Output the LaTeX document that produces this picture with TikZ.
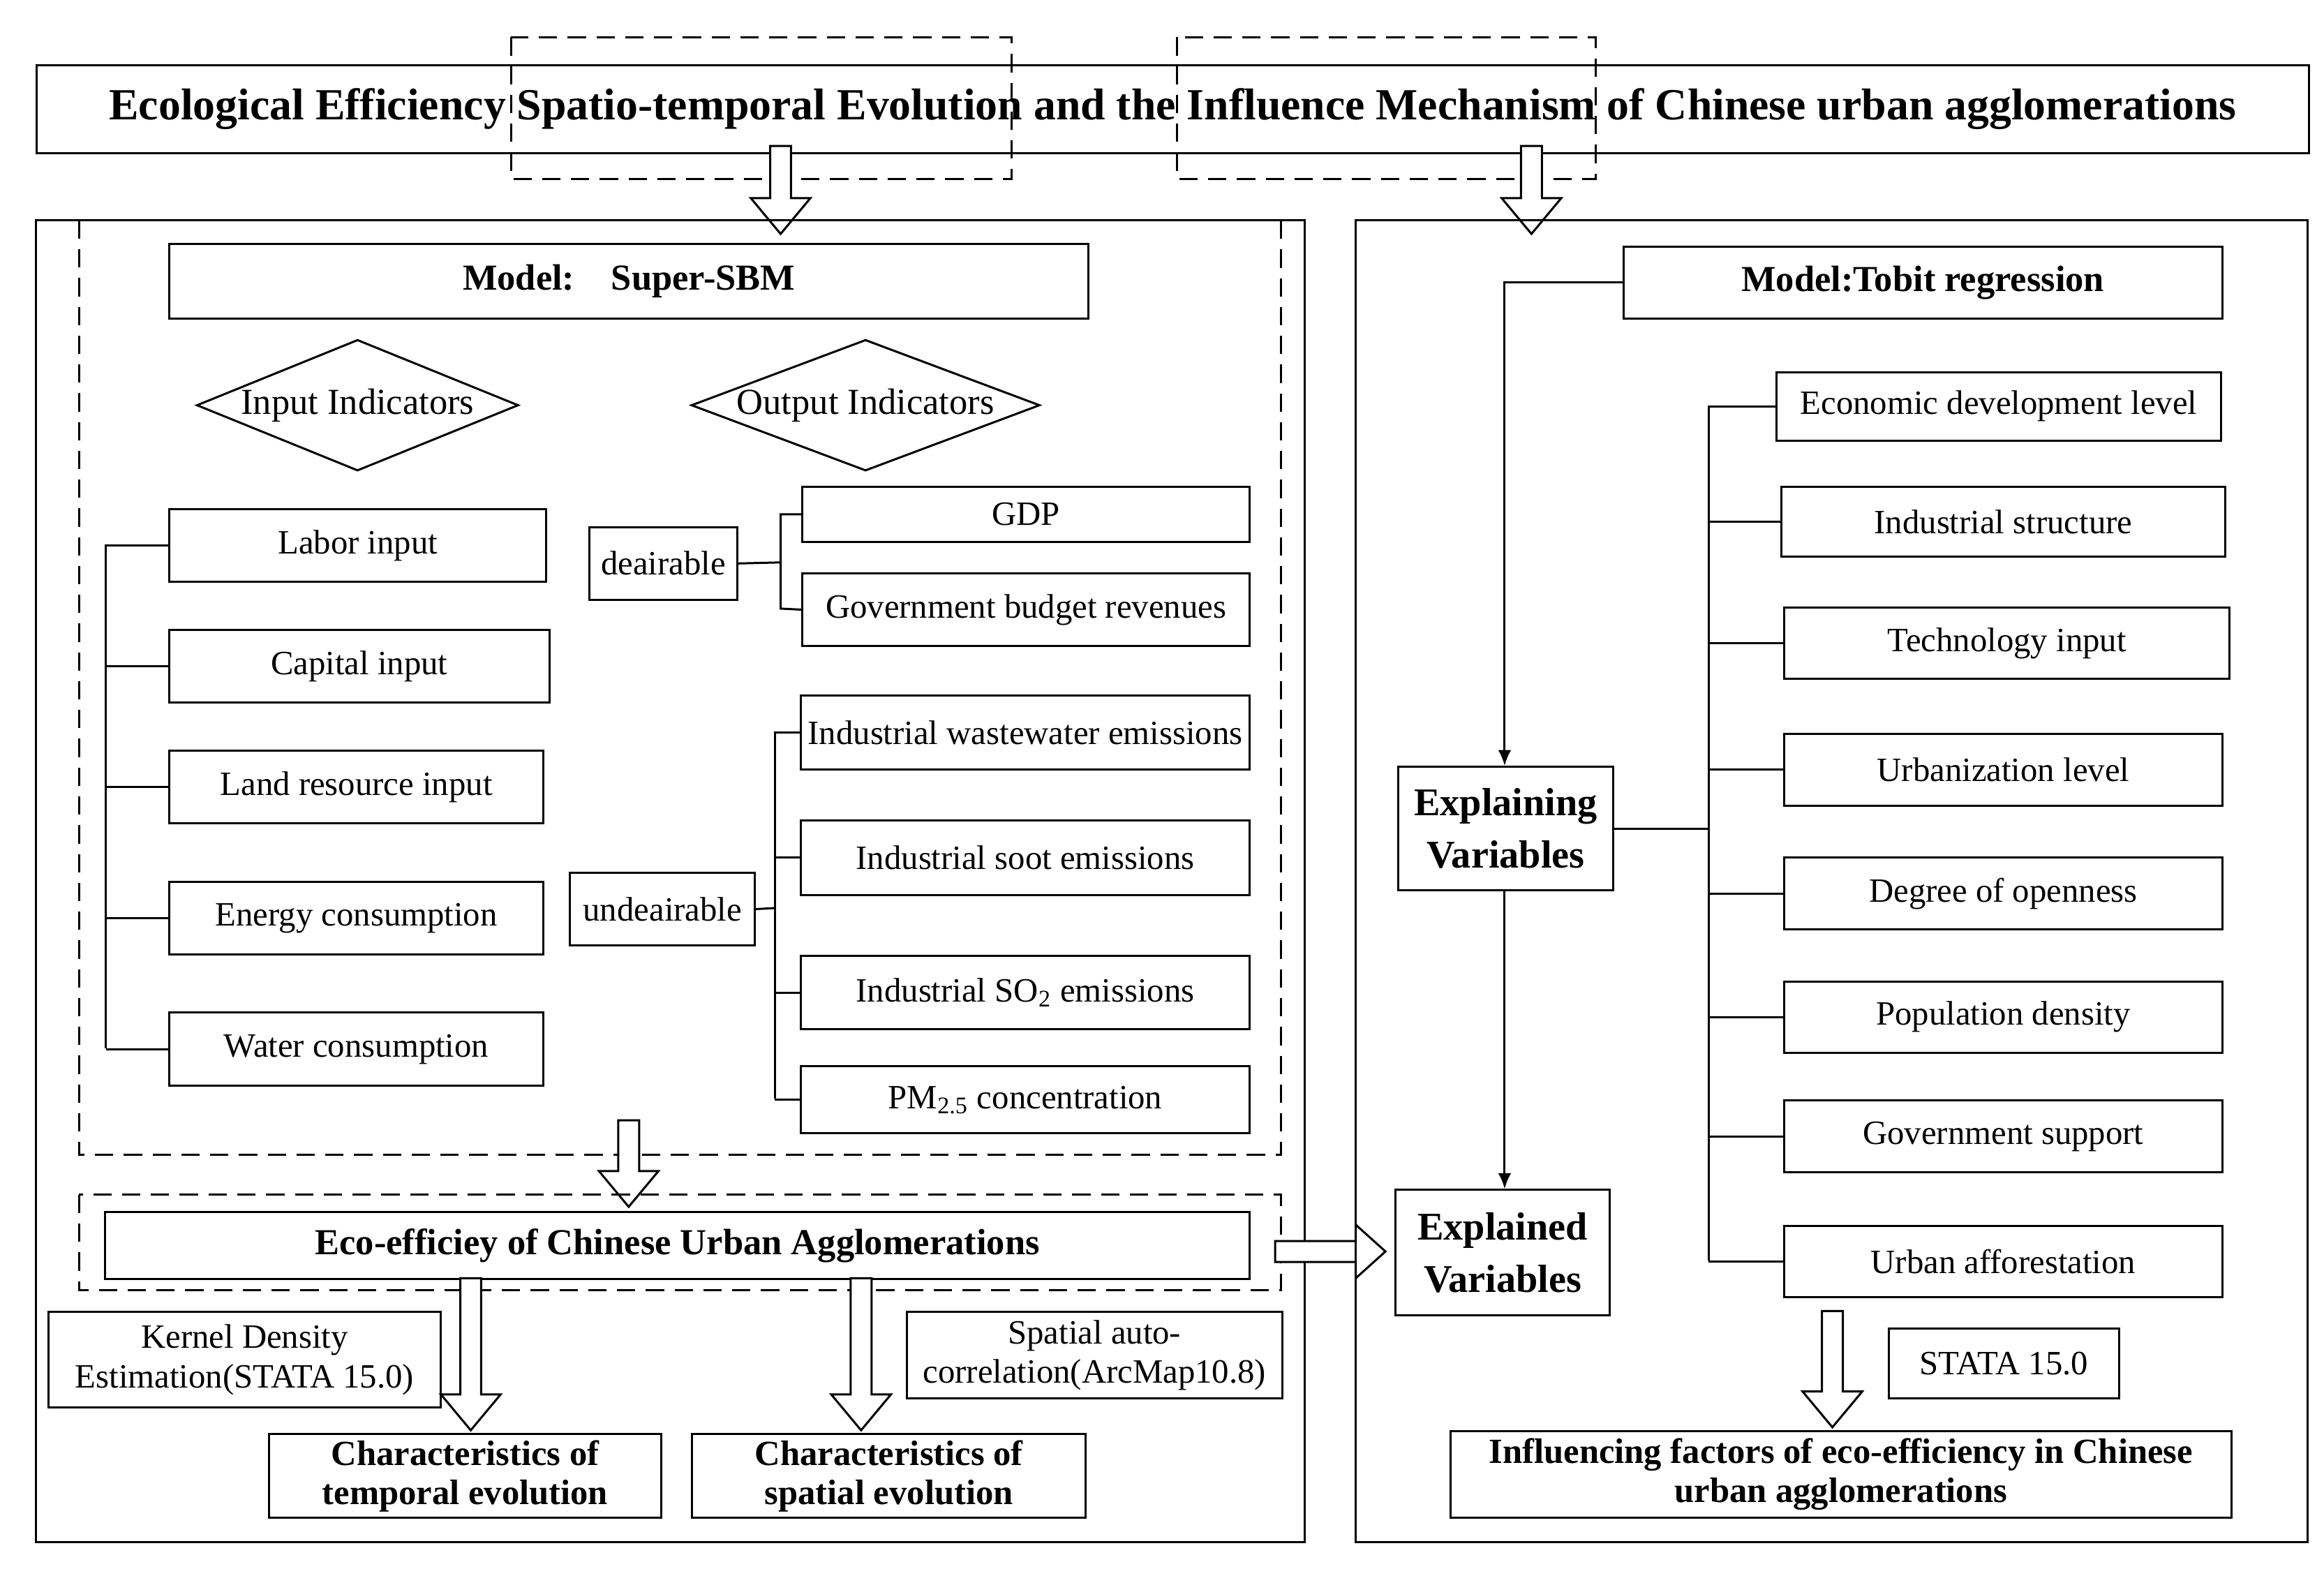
\documentclass[tikz,border=0pt]{standalone}
\usepackage{fontspec}
\setmainfont{Liberation Serif}
\usetikzlibrary{shapes.geometric,arrows.meta}
\begin{document}
\begin{tikzpicture}[x=0.02cm,y=-0.02cm,
 bx/.style={draw,thick,inner sep=0pt,align=center,font=\fontsize{13}{15}\selectfont},
 hb/.style={bx,font=\fontsize{14}{17}\selectfont\bfseries},
 dsh/.style={draw,thick,dash pattern=on 7pt off 4pt},
 ln/.style={draw,thick},
 hollow/.style={draw,thick,fill=white}]
\useasboundingbox (0,0) rectangle (1560,1053);
\newcommand{\hdown}[3]{\draw[hollow] (#1-7,#2)--(#1+7,#2)--(#1+7,#3-24)--(#1+20,#3-24)--(#1,#3)--(#1-20,#3-24)--(#1-7,#3-24)--cycle;}
% title
\node[draw,thick,minimum width=1525*0.02cm,minimum height=59*0.02cm,anchor=north west,font=\fontsize{17}{20}\selectfont\bfseries] (title) at (24,43) {Ecological Efficiency Spatio-temporal Evolution and the Influence Mechanism of Chinese urban agglomerations};
\draw[dsh] (343,25) rectangle (679,120);
\draw[dsh] (790,25) rectangle (1071,120);
\hdown{524}{98}{157}
\hdown{1028}{98}{157}
% left panel
\draw[ln] (24,148) rectangle (876,1035);
\draw[dsh] (53,148) rectangle (860,775);
\node[hb,minimum width=617*0.02cm,minimum height=50*0.02cm,anchor=north west] (sbm) at (113,163) {Model:\hspace{1em}Super-SBM};
\node[draw,thick,diamond,aspect=2.45,minimum width=216*0.02cm,minimum height=88*0.02cm,inner sep=0pt,font=\fontsize{14}{17}\selectfont] (inp) at (240,272) {Input Indicators};
\node[draw,thick,diamond,aspect=2.65,minimum width=234*0.02cm,minimum height=88*0.02cm,inner sep=0pt,font=\fontsize{14}{17}\selectfont] (outp) at (581,272) {Output Indicators};
\foreach \n/\t/\a/\b/\c in {lab/Labor input/341/366/390, cap/Capital input/422/368/471, land/Land resource input/503/364/552, ene/Energy consumption/591/364/640, wat/Water consumption/679/364/728}{
 \node[bx,minimum width=(\b-113)*0.02cm,minimum height=(\c-\a)*0.02cm,anchor=north west] (\n) at (113,\a) {\t};
}
\foreach \n in {lab,cap,land,ene,wat}{\draw[ln] (\n.west) -- ++(-42,0);}
\draw[ln] (71,365.5) -- (71,703.5);
\node[bx,minimum width=99*0.02cm,minimum height=49*0.02cm,anchor=north west] (des) at (395,353) {deairable};
\node[bx,minimum width=300*0.02cm,minimum height=37*0.02cm,anchor=north west] (gdp) at (538,326) {GDP};
\node[bx,minimum width=300*0.02cm,minimum height=49*0.02cm,anchor=north west] (gov) at (538,384) {Government budget revenues};
\draw[ln] (des.east) -- (524,377.5);
\draw[ln] (gdp.west) -| (524,408.5) -- (gov.west);
\node[bx,minimum width=124*0.02cm,minimum height=49*0.02cm,anchor=north west] (und) at (382,585) {undeairable};
\foreach \n/\t/\a/\c in {ww/Industrial wastewater emissions/466/516, soot/Industrial soot emissions/550/600, so/Industrial SO\textsubscript{2} emissions/641/690, pm/PM\textsubscript{2.5} concentration/715/760}{
 \node[bx,minimum width=301*0.02cm,minimum height=(\c-\a)*0.02cm,anchor=north west] (\n) at (537,\a) {\t};
}
\foreach \n in {ww,soot,so,pm}{\draw[ln] (\n.west) -- (520,0 |- \n.west);}
\draw[ln] (520,491) -- (520,737.5);
\draw[ln] (und.east) -- (520,609.5);
\hdown{422}{752}{810}
\draw[dsh] (53,802) rectangle (860,866);
\node[hb,minimum width=768*0.02cm,minimum height=45*0.02cm,anchor=north west] (eco) at (70,813) {Eco-efficiey of Chinese Urban Agglomerations};
\hdown{316}{858}{960}
\hdown{578}{858}{960}
\node[bx,minimum width=263*0.02cm,minimum height=64*0.02cm,anchor=north west] (ker) at (32,880) {Kernel Density\\Estimation(STATA 15.0)};
\node[bx,minimum width=252*0.02cm,minimum height=58*0.02cm,anchor=north west] (sac) at (608,880) {Spatial auto-\\correlation(ArcMap10.8)};
\node[bx,minimum width=263*0.02cm,minimum height=56*0.02cm,anchor=north west,font=\fontsize{13.5}{15}\selectfont\bfseries] (ct) at (180,962) {Characteristics of\\temporal evolution};
\node[bx,minimum width=264*0.02cm,minimum height=56*0.02cm,anchor=north west,font=\fontsize{13.5}{15}\selectfont\bfseries] (cs) at (464,962) {Characteristics of\\spatial evolution};
\draw[hollow] (856,833)--(910,833)--(910,822)--(930,840)--(910,858)--(910,847)--(856,847)--cycle;
% right panel
\draw[ln] (910,148) rectangle (1549,1035);
\node[hb,minimum width=402*0.02cm,minimum height=48*0.02cm,anchor=north west] (tob) at (1089,165) {Model:Tobit regression};
\node[hb,minimum width=144*0.02cm,minimum height=83*0.02cm,anchor=north west,font=\fontsize{15}{20}\selectfont\bfseries] (exg) at (938,514) {Explaining\\Variables};
\node[hb,minimum width=144*0.02cm,minimum height=84*0.02cm,anchor=north west,font=\fontsize{15}{20}\selectfont\bfseries] (exd) at (936,798) {Explained\\Variables};
\draw[ln,-{Latex[length=6pt,width=5pt]}] (tob.west) -| (exg.north -| 1010,0);
\draw[ln,-{Latex[length=6pt,width=5pt]}] (exg.south -| 1010,0) -- (exd.north -| 1010,0);
\foreach \n/\t/\x/\a/\b/\c in {e1/Economic development level/1192/249/1490/295, e2/Industrial structure/1195/326/1493/373, e3/Technology input/1197/407/1496/455, e4/Urbanization level/1197/492/1491/540, e5/Degree of openness/1197/575/1491/623, e6/Population density/1197/658/1491/706, e7/Government support/1197/738/1491/786, e8/Urban afforestation/1197/822/1491/870}{
 \node[bx,minimum width=(\b-\x)*0.02cm,minimum height=(\c-\a)*0.02cm,anchor=north west] (\n) at (\x,\a) {\t};
}
\foreach \n in {e1,e2,e3,e4,e5,e6,e7,e8}{\draw[ln] (\n.west) -- (1147,0 |- \n.west);}
\draw[ln] (1147,272) -- (1147,846);
\draw[ln] (exg.east) -- (1147,0 |- exg.east);
\hdown{1230}{880}{958}
\node[bx,minimum width=155*0.02cm,minimum height=47*0.02cm,anchor=north west] (st) at (1267,891) {STATA 15.0};
\node[bx,minimum width=524*0.02cm,minimum height=58*0.02cm,anchor=north west,font=\fontsize{13.5}{15}\selectfont\bfseries] (inf) at (973,960) {Influencing factors of eco-efficiency in Chinese\\urban agglomerations};
\end{tikzpicture}
\end{document}
